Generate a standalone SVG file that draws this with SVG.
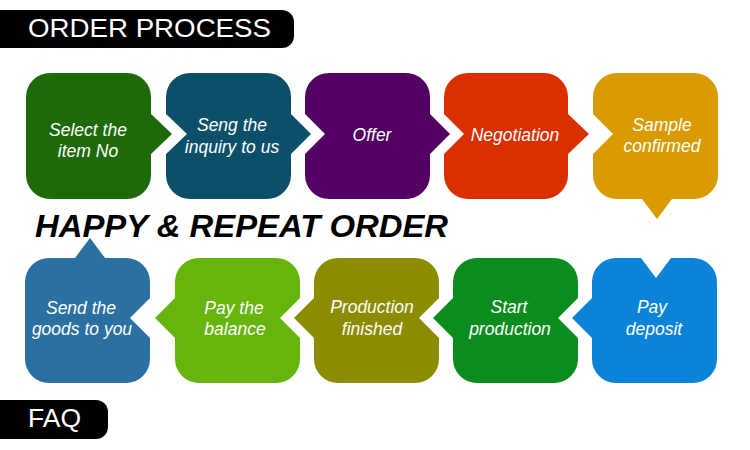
<svg xmlns="http://www.w3.org/2000/svg" width="750" height="450" viewBox="0 0 750 450">
  <style>
    .bar { fill: #000; }
    .bartxt { font-family: "Liberation Sans", Arial, sans-serif; font-size: 25px; fill: #fff; }
    .lbl { font-family: "Liberation Sans", Arial, sans-serif; font-style: italic; font-size: 17.5px; fill: #fff; text-anchor: middle; }
    .title { font-family: "Liberation Sans", Arial, sans-serif; font-style: italic; font-weight: bold; font-size: 32px; fill: #000; }
  </style>
  <rect width="750" height="450" fill="#fff"/>

  <g id="header-order-process">
    <path class="bar" d="M0,10 H282 A12 12 0 0 1 294,22 V36 A12 12 0 0 1 282,48 H0 Z"/>
    <text class="bartxt" x="28" y="37" textLength="243" lengthAdjust="spacingAndGlyphs">ORDER PROCESS</text>
  </g>

  <g id="step1-select">
    <path fill="#1e6a0a" d="M50,73 H127 A24 24 0 0 1 151,97 V114 L172,134 L151,154 V175 A24 24 0 0 1 127,199 H50 A24 24 0 0 1 26,175 V97 A24 24 0 0 1 50,73 Z"/>
    <text class="lbl" x="88" y="136">Select the</text>
    <text class="lbl" x="88" y="157">item No</text>
  </g>

  <g id="step2-inquiry">
    <path fill="#0b5068" d="M190,73 H267 A24 24 0 0 1 291,97 V114 L311,134 L291,154 V175 A24 24 0 0 1 267,199 H190 A24 24 0 0 1 166,175 V154 L187,134 L166,114 V97 A24 24 0 0 1 190,73 Z"/>
    <text class="lbl" x="232" y="131">Seng the</text>
    <text class="lbl" x="232" y="153">inquiry to us</text>
  </g>

  <g id="step3-offer">
    <path fill="#520062" d="M329,73 H406 A24 24 0 0 1 430,97 V114 L450,134 L430,154 V175 A24 24 0 0 1 406,199 H329 A24 24 0 0 1 305,175 V154 L325,134 L305,114 V97 A24 24 0 0 1 329,73 Z"/>
    <text class="lbl" x="372" y="141">Offer</text>
  </g>

  <g id="step4-negotiation">
    <path fill="#da3000" d="M468,73 H544 A24 24 0 0 1 568,97 V114 L589,134 L568,154 V175 A24 24 0 0 1 544,199 H468 A24 24 0 0 1 444,175 V154 L464,134 L444,114 V97 A24 24 0 0 1 468,73 Z"/>
    <text class="lbl" x="515" y="141">Negotiation</text>
  </g>

  <g id="step5-sample">
    <path fill="#d99b00" d="M617,73 H694 A24 24 0 0 1 718,97 V175 A24 24 0 0 1 694,199 H672 L657,219 L642,199 H617 A24 24 0 0 1 593,175 V154 L613,134 L593,114 V97 A24 24 0 0 1 617,73 Z"/>
    <text class="lbl" x="662" y="131">Sample</text>
    <text class="lbl" x="662" y="152">confirmed</text>
  </g>

  <text class="title" x="35" y="237" textLength="413" lengthAdjust="spacingAndGlyphs">HAPPY &amp; REPEAT ORDER</text>

  <g id="step6-deposit">
    <path fill="#0a84d8" d="M616,258 H641 L656,278 L671,258 H693 A24 24 0 0 1 717,282 V359 A24 24 0 0 1 693,383 H616 A24 24 0 0 1 592,359 V338 L572,318 L592,298 V282 A24 24 0 0 1 616,258 Z"/>
    <text class="lbl" x="652" y="313">Pay</text>
    <text class="lbl" x="654" y="335">deposit</text>
  </g>

  <g id="step7-start">
    <path fill="#0a8c1e" d="M477,258 H554 A24 24 0 0 1 578,282 V298 L558,318 L578,338 V359 A24 24 0 0 1 554,383 H477 A24 24 0 0 1 453,359 V338 L433,318 L453,298 V282 A24 24 0 0 1 477,258 Z"/>
    <text class="lbl" x="509" y="313">Start</text>
    <text class="lbl" x="510" y="335">production</text>
  </g>

  <g id="step8-finished">
    <path fill="#8c8c00" d="M338,258 H415 A24 24 0 0 1 439,282 V298 L419,318 L439,338 V359 A24 24 0 0 1 415,383 H338 A24 24 0 0 1 314,359 V338 L294,318 L314,298 V282 A24 24 0 0 1 338,258 Z"/>
    <text class="lbl" x="372" y="313">Production</text>
    <text class="lbl" x="372" y="335">finished</text>
  </g>

  <g id="step9-balance">
    <path fill="#66b40c" d="M199,258 H276 A24 24 0 0 1 300,282 V298 L280,318 L300,338 V359 A24 24 0 0 1 276,383 H199 A24 24 0 0 1 175,359 V338 L155,318 L175,298 V282 A24 24 0 0 1 199,258 Z"/>
    <text class="lbl" x="234" y="314">Pay the</text>
    <text class="lbl" x="235" y="335">balance</text>
  </g>

  <g id="step10-send">
    <path fill="#2a70a0" d="M49,258 H75 L90,238 L105,258 H126 A24 24 0 0 1 150,282 V298 L130,318 L150,338 V359 A24 24 0 0 1 126,383 H49 A24 24 0 0 1 25,359 V282 A24 24 0 0 1 49,258 Z"/>
    <text class="lbl" x="81" y="314">Send the</text>
    <text class="lbl" x="82" y="335">goods to you</text>
  </g>

  <g id="connectors"></g>

  <g id="header-faq">
    <path class="bar" d="M0,400 H96 A12 12 0 0 1 108,412 V427 A12 12 0 0 1 96,439 H0 Z"/>
    <text class="bartxt" x="28" y="427" textLength="53" lengthAdjust="spacingAndGlyphs">FAQ</text>
  </g>
</svg>
